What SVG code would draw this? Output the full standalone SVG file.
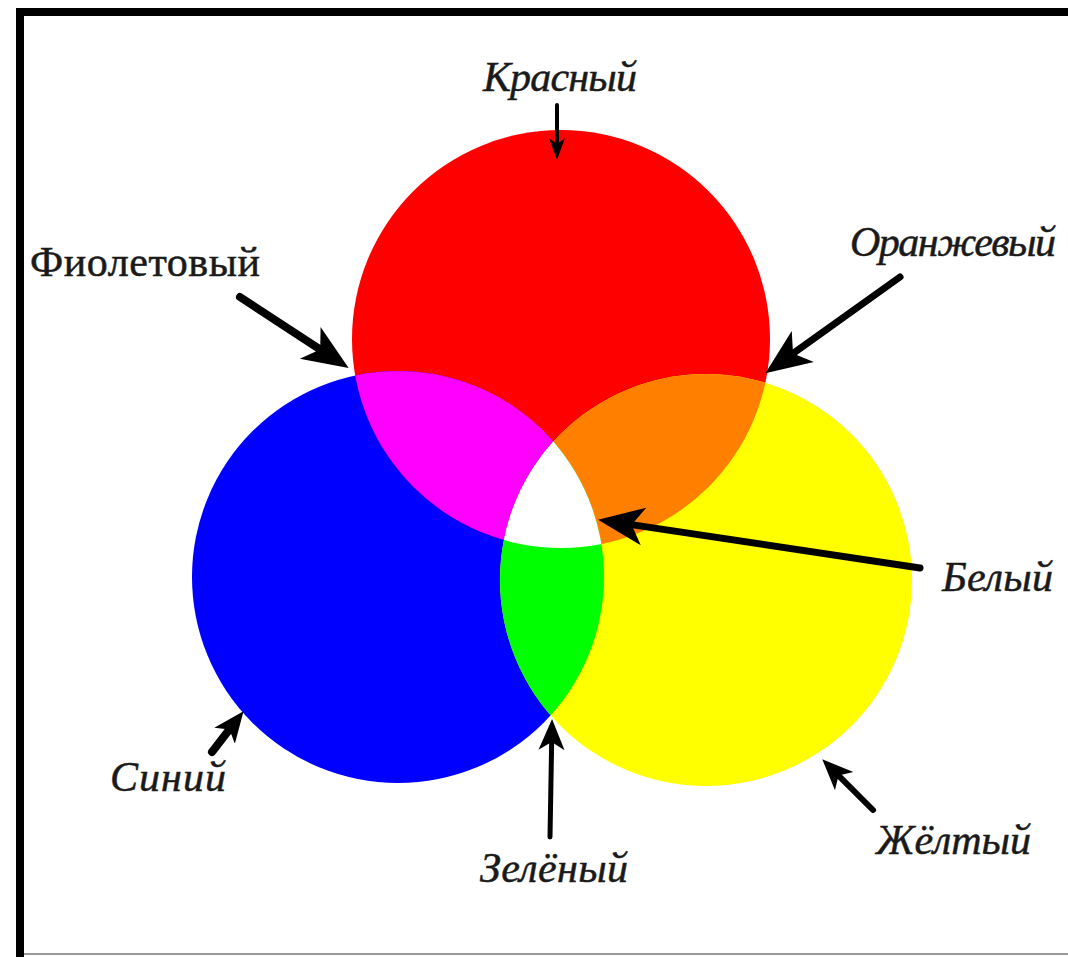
<svg xmlns="http://www.w3.org/2000/svg" width="1068" height="957" viewBox="0 0 1068 957">
<style>
.lbl{font-family:"Liberation Serif","Times New Roman",serif;font-size:42px;font-style:italic;fill:#1a1a1a;stroke:#1a1a1a;stroke-width:0.5}
.up{font-style:normal}
.arr{stroke:#000;fill:none;stroke-linecap:round}
</style>
<defs>
<circle id="cR" cx="561" cy="339" r="209"/>
<circle id="cB" cx="398" cy="577" r="206"/>
<circle id="cY" cx="706" cy="580" r="206"/>
<clipPath id="clipR"><use href="#cR"/></clipPath>
<clipPath id="clipB"><use href="#cB"/></clipPath>
<clipPath id="clipY"><use href="#cY"/></clipPath>
<marker id="mBig" markerUnits="userSpaceOnUse" markerWidth="50" markerHeight="42" viewBox="0 -21 50 42" refX="14" refY="0" orient="auto">
<path d="M0,-19 L46,0 L0,19 L12,0 Z" fill="#000"/>
</marker>
<marker id="mMed" markerUnits="userSpaceOnUse" markerWidth="34" markerHeight="30" viewBox="0 -15 34 30" refX="10" refY="0" orient="auto">
<path d="M0,-13 L31,0 L0,13 L8,0 Z" fill="#000"/>
</marker>
<marker id="mSm" markerUnits="userSpaceOnUse" markerWidth="24" markerHeight="20" viewBox="0 -10 24 20" refX="7" refY="0" orient="auto">
<path d="M0,-8 L22,0 L0,8 L6,0 Z" fill="#000"/>
</marker>
</defs>
<rect x="0" y="0" width="1068" height="957" fill="#fff"/>
<g id="frame">
<rect x="16" y="8" width="1052" height="8" fill="#000"/>
<rect x="16" y="8" width="8" height="949" fill="#000"/>
<line x1="24" y1="954" x2="1068" y2="954" stroke="#999" stroke-width="2"/>
</g>
<g id="circles">
<use id="red" href="#cR" fill="#ff0000"/>
<use id="blue" href="#cB" fill="#0000ff"/>
<use id="yellow" href="#cY" fill="#ffff00"/>
<g clip-path="url(#clipR)"><use id="violet" href="#cB" fill="#ff00ff"/></g>
<g clip-path="url(#clipR)"><use id="orange" href="#cY" fill="#ff8000"/></g>
<g clip-path="url(#clipB)"><use id="green" href="#cY" fill="#00ff00"/></g>
<g clip-path="url(#clipR)"><g clip-path="url(#clipB)"><use id="white" href="#cY" fill="#ffffff"/></g></g>
</g>
<g id="connectors">
<line class="arr" x1="557" y1="105" x2="557" y2="145" stroke-width="4" marker-end="url(#mSm)"/>
<line class="arr" x1="240" y1="297" x2="321.9" y2="350.6" stroke-width="8" marker-end="url(#mBig)"/>
<line class="arr" x1="900" y1="277" x2="791.4" y2="354.6" stroke-width="7" marker-end="url(#mBig)"/>
<line class="arr" x1="920" y1="568" x2="629.7" y2="524.4" stroke-width="7" marker-end="url(#mBig)"/>
<line class="arr" x1="212" y1="752" x2="230.7" y2="727.8" stroke-width="8" marker-end="url(#mMed)"/>
<line class="arr" x1="550" y1="837" x2="551.7" y2="740" stroke-width="5" marker-end="url(#mMed)"/>
<line class="arr" x1="873" y1="810" x2="837.1" y2="774.1" stroke-width="6" marker-end="url(#mMed)"/>
</g>
<g id="label-red"><text class="lbl" x="483" y="91" textLength="154">Красный</text></g>
<g id="label-violet"><text class="lbl up" x="30" y="276" textLength="230">Фиолетовый</text></g>
<g id="label-orange"><text class="lbl" x="850" y="256" textLength="206">Оранжевый</text></g>
<g id="label-white"><text class="lbl" x="942" y="591" textLength="111">Белый</text></g>
<g id="label-blue"><text class="lbl" x="110" y="791" textLength="116">Синий</text></g>
<g id="label-green"><text class="lbl" x="480" y="882" textLength="148">Зелёный</text></g>
<g id="label-yellow"><text class="lbl" x="876" y="854" textLength="155">Жёлтый</text></g>
</svg>
